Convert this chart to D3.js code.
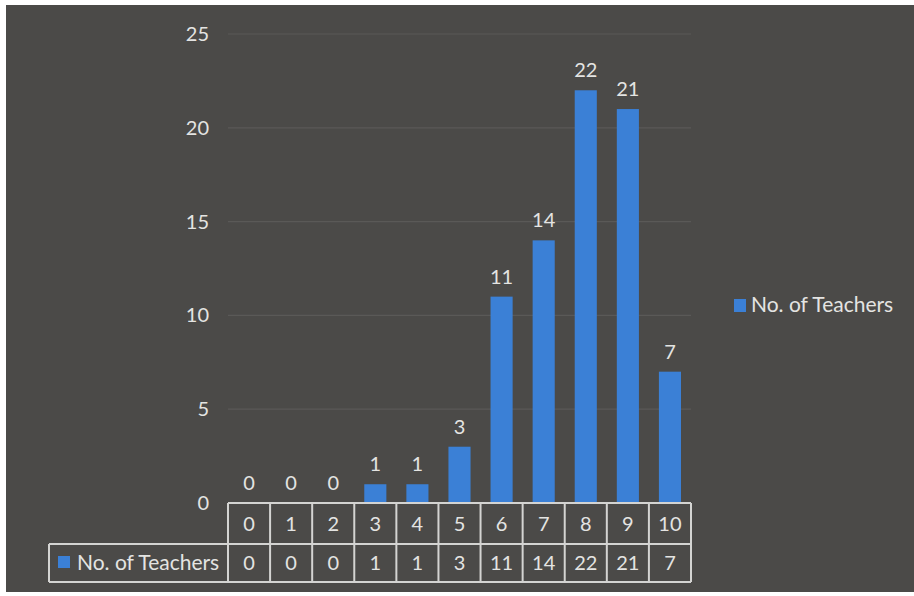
<!DOCTYPE html>
<html><head><meta charset="utf-8">
<script src="https://cdn.jsdelivr.net/npm/d3@7"></script>
<style>html,body{margin:0;padding:0;background:#fff;}svg{display:block;}</style>
</head><body>
<svg id="chart" width="914" height="596"></svg>
<script>
const categories = ["0","1","2","3","4","5","6","7","8","9","10"];
const teachers = [0,0,0,1,1,3,11,14,22,21,7];
const seriesName = "No. of Teachers";
const yTicks = [0,5,10,15,20,25];

const svg = d3.select("#chart");
const font = "Lato, 'Open Sans', sans-serif";
const txt = "#e4e4e2";
const numSize = "20px", legSize = "21px";
svg.append("rect").attr("x",6).attr("y",5).attr("width",908).attr("height",587).attr("fill","#4b4a48");

const x = d3.scaleBand().domain(categories).range([228,691]).paddingInner(0.475).paddingOuter(0.2375);
const xc = d3.scaleBand().domain(categories).range([228,691]).padding(0);
const y = d3.scaleLinear().domain([0,25]).range([503,34]);

// gridlines
svg.append("g").selectAll("line").data(yTicks.filter(t=>t>0)).join("line")
  .attr("x1",228).attr("x2",691).attr("y1",d=>y(d)).attr("y2",d=>y(d))
  .attr("stroke","#5a5957").attr("stroke-width",1.2);

// y axis labels
const yAxis = d3.axisLeft(y).tickValues(yTicks).tickSize(0).tickPadding(0);
const yg = svg.append("g").attr("transform","translate(209,0)").call(yAxis);
yg.select(".domain").remove();
yg.selectAll("text").attr("fill",txt).style("font-family",font).style("font-size",numSize);

// bars
svg.append("g").selectAll("rect").data(teachers).join("rect")
  .attr("x",(d,i)=>x(categories[i])).attr("width",x.bandwidth())
  .attr("y",d=>y(d)).attr("height",d=>y(0)-y(d)).attr("fill","#3b80d6");

// data labels
svg.append("g").selectAll("text").data(teachers).join("text")
  .attr("x",(d,i)=>x(categories[i])+x.bandwidth()/2).attr("y",d=>y(d)-13)
  .attr("text-anchor","middle").attr("fill",txt).style("font-family",font).style("font-size",numSize)
  .text(d=>d);

// data table
const rowTop = 503, rowMid = 544, rowBot = 582, legLeft = 49;
const tg = svg.append("g").attr("stroke","#d4d4d2").attr("stroke-width",2).attr("fill","none");
tg.append("line").attr("x1",228).attr("x2",691).attr("y1",rowTop).attr("y2",rowTop);
tg.append("line").attr("x1",legLeft).attr("x2",691).attr("y1",rowMid).attr("y2",rowMid);
tg.append("line").attr("x1",legLeft).attr("x2",691).attr("y1",rowBot).attr("y2",rowBot);
tg.append("line").attr("x1",legLeft).attr("x2",legLeft).attr("y1",rowMid).attr("y2",rowBot);
tg.selectAll("line.v").data(categories.concat(["end"])).join("line").attr("class","v")
  .attr("x1",(d,i)=>i<categories.length?xc(d):691).attr("x2",(d,i)=>i<categories.length?xc(d):691)
  .attr("y1",rowTop).attr("y2",rowBot);

svg.append("g").selectAll("text").data(categories).join("text")
  .attr("x",d=>xc(d)+xc.bandwidth()/2).attr("y",(rowTop+rowMid)/2).attr("dy","0.35em")
  .attr("text-anchor","middle").attr("fill",txt).style("font-family",font).style("font-size",numSize).text(d=>d);
svg.append("g").selectAll("text").data(teachers).join("text")
  .attr("x",(d,i)=>xc(categories[i])+xc.bandwidth()/2).attr("y",(rowMid+rowBot)/2).attr("dy","0.35em")
  .attr("text-anchor","middle").attr("fill",txt).style("font-family",font).style("font-size",numSize).text(d=>d);

svg.append("rect").attr("x",58).attr("y",556).attr("width",12).attr("height",12).attr("fill","#3b80d6");
svg.append("text").attr("x",77).attr("y",(rowMid+rowBot)/2).attr("dy","0.35em")
  .attr("fill",txt).style("font-family",font).style("font-size",legSize).text(seriesName);

// legend
svg.append("rect").attr("x",734).attr("y",299).attr("width",12).attr("height",13).attr("fill","#3b80d6");
svg.append("text").attr("x",751).attr("y",305).attr("dy","0.35em")
  .attr("fill",txt).style("font-family",font).style("font-size",legSize).text(seriesName);
</script>
</body></html>
